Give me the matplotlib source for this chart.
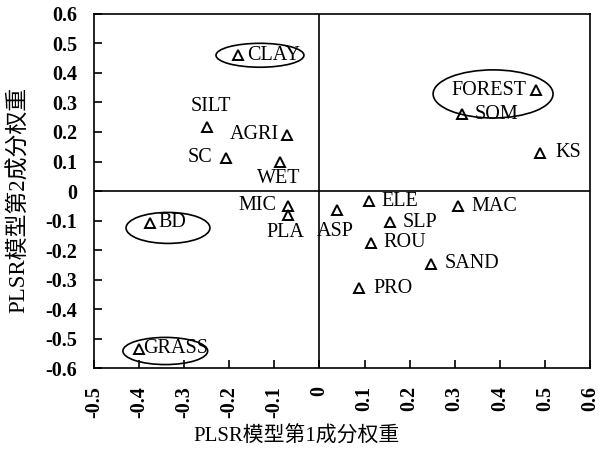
import numpy as np
import matplotlib
matplotlib.use("Agg")
import matplotlib.pyplot as plt
from matplotlib.patches import Ellipse

plt.rcParams['font.family'] = ['Liberation Serif', 'Noto Sans CJK SC']

# 变量名与两个成分的权重
names = ["CLAY", "SILT", "AGRI", "SC", "WET", "MIC", "PLA", "BD", "GRASS",
         "FOREST", "SOM", "KS", "ASP", "ELE", "SLP", "ROU", "SAND", "PRO", "MAC"]
w1 = [-0.18, -0.25, -0.072, -0.207, -0.088, -0.07, -0.07, -0.375, -0.40,
      0.48, 0.316, 0.489, 0.039, 0.11, 0.156, 0.114, 0.247, 0.088, 0.307]
w2 = [0.46, 0.217, 0.19, 0.112, 0.098, -0.05, -0.08, -0.108, -0.535,
      0.342, 0.26, 0.129, -0.064, -0.034, -0.105, -0.176, -0.247, -0.329, -0.051]

# 标签偏移 (points) 和对齐
offsets = {
    "CLAY": (6, 0, "left", "center"),
    "SILT": (3, 8, "center", "bottom"),
    "AGRI": (-6, 0, "right", "center"),
    "SC": (-10, 0, "right", "center"),
    "WET": (-1, -5, "center", "top"),
    "MIC": (-8, 0, "right", "center"),
    "PLA": (-2, -6, "center", "top"),
    "BD": (6, 0, "left", "center"),
    "GRASS": (3, 0, "left", "center"),
    "FOREST": (-7, 0, "right", "center"),
    "SOM": (9, 0, "left", "center"),
    "KS": (11, 0, "left", "center"),
    "ASP": (-1, -9, "center", "top"),
    "ELE": (9, 0, "left", "center"),
    "SLP": (9, 0, "left", "center"),
    "ROU": (9, 0, "left", "center"),
    "SAND": (10, 0, "left", "center"),
    "PRO": (10, 0, "left", "center"),
    "MAC": (10, 0, "left", "center"),
}

# 椭圆 (center x, center y, width, height)
ell_x = [-0.132, 0.385, -0.336, -0.342]
ell_y = [0.46, 0.329, -0.125, -0.542]
ell_w = [0.195, 0.266, 0.186, 0.188]
ell_h = [0.081, 0.163, 0.105, 0.092]

fig = plt.figure(figsize=(5.99, 4.5), dpi=100)
ax = fig.add_axes([0.157, 0.182, 0.828, 0.787])

ax.plot(w1, w2, linestyle="none", marker="^", markersize=6.5,
        markerfacecolor="none", markeredgecolor="black", markeredgewidth=1.4)

for n, x, y in zip(names, w1, w2):
    dx, dy, ha, va = offsets[n]
    ax.annotate(n, (x, y), xytext=(dx, dy), textcoords="offset points",
                ha=ha, va=va, fontsize=14.5)

for cx, cy, ew, eh in zip(ell_x, ell_y, ell_w, ell_h):
    ax.add_patch(Ellipse((cx, cy), ew, eh, fill=False, edgecolor="black", lw=1.2))

ax.axhline(0, color="black", lw=1.2)
ax.axvline(0, color="black", lw=1.2)

ax.set_xlim(-0.5, 0.6)
ax.set_ylim(-0.6, 0.6)
xt = np.round(np.arange(-0.5, 0.61, 0.1), 1)
yt = np.round(np.arange(-0.6, 0.61, 0.1), 1)
ax.set_xticks(xt)
ax.set_yticks(yt)
ax.set_xticklabels(["0" if v == 0 else f"{v:g}" for v in xt], rotation=90,
                   fontsize=14.5, fontweight="bold")
ax.set_yticklabels(["0" if v == 0 else f"{v:g}" for v in yt],
                   fontsize=14.5, fontweight="bold")
ax.tick_params(direction="in", length=6, width=1.2, top=False, right=False)
ax.tick_params(axis="x", pad=13)
ax.tick_params(axis="y", pad=12)
for s in ax.spines.values():
    s.set_linewidth(1.2)

# 轴标题
fig.text(0.495, 0.029, "PLSR模型第1成分权重", fontsize=15, ha="center", va="center")
fig.text(0.032, 0.556, "PLSR模型第2成分权重", fontsize=16.5, ha="center", va="center",
         rotation=90)

fig.savefig("out.png", dpi=100)
